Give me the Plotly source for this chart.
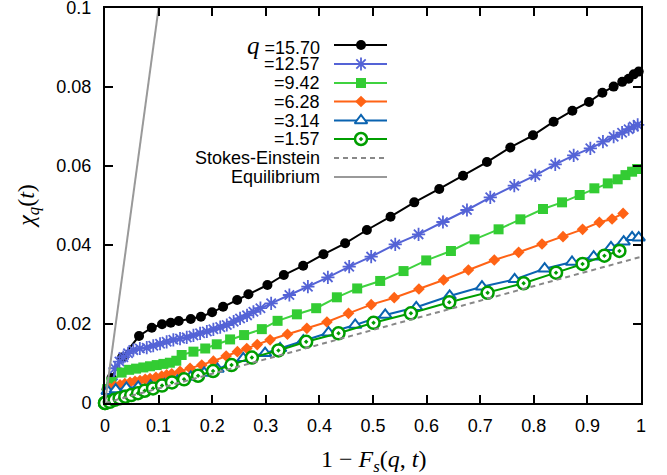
import plotly.graph_objects as go

# ---------------- data ----------------
q_labels = ["15.70", "12.57", "9.42", "6.28", "3.14", "1.57"]

x_q1570 = [0, 0.003, 0.012, 0.0317, 0.0635, 0.0872, 0.1064, 0.1227, 0.1376, 0.160, 0.179, 0.1998,
           0.2203, 0.2465, 0.2676, 0.303, 0.3336, 0.3697, 0.4076, 0.448, 0.4886, 0.5327, 0.577,
           0.6236, 0.668, 0.7126, 0.7562, 0.7985, 0.837, 0.872, 0.903, 0.928, 0.949, 0.965, 0.977,
           0.9865, 0.9957]
y_q1570 = [0, 0.0035, 0.0063, 0.0115, 0.01696, 0.01906, 0.01992, 0.02033, 0.02076, 0.02127, 0.02185,
           0.02296, 0.02438, 0.02608, 0.02752, 0.02987, 0.0324, 0.03476, 0.03764, 0.04043, 0.0438,
           0.04717, 0.0508, 0.05418, 0.05755, 0.0610, 0.0647, 0.06777, 0.07122, 0.0740, 0.0762,
           0.07856, 0.0801, 0.0813, 0.0821, 0.0832, 0.0839]

x_q1257 = [0, 0.008, 0.015, 0.0187, 0.027, 0.0342, 0.043, 0.0528, 0.065, 0.0779, 0.09, 0.1027, 0.115,
           0.1275, 0.14, 0.1525, 0.165, 0.1774, 0.19, 0.2022, 0.215, 0.2272, 0.24, 0.252, 0.265,
           0.2769, 0.29, 0.31, 0.344, 0.3785, 0.4158, 0.4556, 0.4966, 0.5415, 0.585, 0.6305, 0.6753,
           0.7188, 0.7636, 0.8028, 0.840, 0.8744, 0.9055, 0.929, 0.949, 0.9647, 0.977, 0.9865, 0.9938]
y_q1257 = [0, 0.0035, 0.0050, 0.0088, 0.0105, 0.0116, 0.0126, 0.0134, 0.0138, 0.0140, 0.0145, 0.0150,
           0.0155, 0.0160, 0.0163, 0.0166, 0.0171, 0.01765, 0.0181, 0.01866, 0.0192, 0.01975, 0.0206,
           0.0214, 0.0222, 0.0231, 0.0240, 0.02524, 0.02734, 0.02944, 0.03182, 0.03451, 0.03704,
           0.04017, 0.0427, 0.04582, 0.04886, 0.05207, 0.05501, 0.05764, 0.06043, 0.0627, 0.06448,
           0.06615, 0.0674, 0.06843, 0.0693, 0.0700, 0.0704]

x_q942 = [0, 0.004, 0.012, 0.031, 0.045, 0.058, 0.0715, 0.084, 0.0965, 0.109, 0.121, 0.133, 0.143,
          0.165, 0.187, 0.2085, 0.2334, 0.2595, 0.2926, 0.322, 0.358, 0.394, 0.4326, 0.4705, 0.5134,
          0.557, 0.5993, 0.6454, 0.6895, 0.7343, 0.775, 0.8172, 0.8527, 0.8856, 0.913, 0.938, 0.9565,
          0.971, 0.9834, 0.9927]
y_q942 = [0, 0.0035, 0.0053, 0.0077, 0.0084, 0.0087, 0.0090, 0.0093, 0.0096, 0.0099, 0.0102, 0.0107,
          0.01215, 0.0130, 0.0138, 0.01486, 0.0161, 0.0172, 0.0187, 0.0208, 0.02245, 0.0240, 0.02676,
          0.0290, 0.0309, 0.0334, 0.0361, 0.03848, 0.04143, 0.04397, 0.0465, 0.04911, 0.0508, 0.05266,
          0.05435, 0.0556, 0.05663, 0.0577, 0.05856, 0.05924]

x_q628 = [0, 0.004, 0.0093, 0.018, 0.028, 0.037, 0.0467, 0.056, 0.0653, 0.075, 0.084, 0.095, 0.1058,
          0.115, 0.1245, 0.14, 0.1587, 0.1805, 0.2022, 0.226, 0.247, 0.2645, 0.284, 0.308, 0.3404,
          0.3766, 0.414, 0.4543, 0.4966, 0.5396, 0.5857, 0.6317, 0.678, 0.7263, 0.7717, 0.8153,
          0.8545, 0.891, 0.9223, 0.946, 0.9666]
y_q628 = [0, 0.0025, 0.0037, 0.0042, 0.0046, 0.0049, 0.0052, 0.0055, 0.0057, 0.0060, 0.0062, 0.0065,
          0.0068, 0.0071, 0.0074, 0.0080, 0.0088, 0.0096, 0.0106, 0.0119, 0.0130, 0.0138, 0.0148,
          0.0160, 0.0174, 0.0189, 0.0205, 0.0227, 0.0249, 0.02666, 0.02886, 0.03114, 0.03367, 0.0362,
          0.03815, 0.04025, 0.0421, 0.04397, 0.04575, 0.04658, 0.0480]

x_q314 = [0, 0.005, 0.02, 0.04, 0.062, 0.085, 0.111, 0.135, 0.16, 0.185, 0.21, 0.233, 0.258, 0.2987,
          0.3267, 0.37, 0.417, 0.4668, 0.5228, 0.5807, 0.643, 0.7033, 0.7642, 0.8202, 0.8713, 0.9117,
          0.944, 0.9677, 0.9834, 0.9957]
y_q314 = [0, 0.0030, 0.0034, 0.0038, 0.0041, 0.0044, 0.0047, 0.0056, 0.0066, 0.0076, 0.0086, 0.0098,
          0.0113, 0.0126, 0.01385, 0.0158, 0.0178, 0.01975, 0.0223, 0.02423, 0.0271, 0.02945, 0.0313,
          0.0340, 0.0357, 0.03704, 0.0394, 0.04084, 0.04195, 0.04185]

x_q157 = [0, 0.0, 0.009, 0.018, 0.0274, 0.038, 0.049, 0.0616, 0.074, 0.0896, 0.1064, 0.125, 0.1475,
          0.1736, 0.2016, 0.236, 0.274, 0.3236, 0.3753, 0.4356, 0.501, 0.5707, 0.6423, 0.7138, 0.781,
          0.8415, 0.891, 0.9317, 0.9597]
y_q157 = [0, 0.0, 0.0003, 0.0008, 0.0012, 0.0016, 0.0020, 0.0025, 0.0031, 0.0037, 0.0044, 0.0052,
          0.0060, 0.0069, 0.0081, 0.0096, 0.0115, 0.0133, 0.0155, 0.01765, 0.0203, 0.0227, 0.0255,
          0.0279, 0.0303, 0.0330, 0.0352, 0.0373, 0.0385]

x_se = [0, 1]
y_se = [0, 0.037]
x_eq = [0, 0.2]
y_eq = [0, 0.2]

x_ticks = [0, 0.1, 0.2, 0.3, 0.4, 0.5, 0.6, 0.7, 0.8, 0.9, 1]
y_ticks = [0, 0.02, 0.04, 0.06, 0.08, 0.1]

# ---------------- styles ----------------
series = [
    (x_q1570, y_q1570, dict(color="#000000", symbol="circle", size=10, line=dict(width=0)), "#000000"),
    (x_q1257, y_q1257, dict(color="#5463d6", symbol="asterisk-open", size=11,
                            line=dict(color="#5463d6", width=1.8)), "#5463d6"),
    (x_q942, y_q942, dict(color="#33cc33", symbol="square", size=10, line=dict(width=0)), "#3fd23f"),
    (x_q628, y_q628, dict(color="#ff6315", symbol="diamond", size=9, line=dict(width=0)), "#ff6315"),
    (x_q314, y_q314, dict(color="#ffffff", symbol="triangle-up", size=11,
                          line=dict(color="#0a63b0", width=2)), "#0a63b0"),
    (x_q157, y_q157, dict(color="#ffffff", symbol="circle-dot", size=12,
                          line=dict(color="#009e00", width=2.5)), "#009e00"),
]
se_dash = "5px,4px"

fig = go.Figure()
for xs, ys, mk, lc in series:
    fig.add_trace(go.Scatter(x=xs, y=ys, mode="lines+markers", marker=mk,
                             line=dict(color=lc, width=2), cliponaxis=False, showlegend=False))

fig.add_trace(go.Scatter(x=x_se, y=y_se, mode="lines", line=dict(color="#888888", width=2, dash=se_dash),
                         showlegend=False))
fig.add_trace(go.Scatter(x=x_eq, y=y_eq, mode="lines", line=dict(color="#999999", width=2),
                         showlegend=False))

# ---------------- custom legend (gnuplot style, in page pixel coords) ----------------
rows = [45, 64, 83, 101.5, 120.5, 139, 158, 177]
leg_text = ['<span style="font-family:Liberation Serif;font-size:25px"><i>q</i></span> =' + q_labels[0]] + \
           ["=" + s for s in q_labels[1:]] + ["Stokes-Einstein", "Equilibrium"]
leg_styles = [(s[2], s[3], "solid") for s in series] + [(None, "#888888", se_dash), (None, "#999999", "solid")]
for r, txt, (mk, lc, dash) in zip(rows, leg_text, leg_styles):
    fig.add_trace(go.Scatter(x=[334, 387], y=[r, r], mode="lines", xaxis="x2", yaxis="y2",
                             line=dict(color=lc, width=2, dash=dash), showlegend=False))
    if mk is not None:
        fig.add_trace(go.Scatter(x=[361], y=[r], mode="markers", xaxis="x2", yaxis="y2",
                                 marker=mk, showlegend=False))
    fig.add_annotation(x=322, y=r, xref="x2", yref="y2", text=txt, showarrow=False,
                       xanchor="right", yanchor="middle",
                       font=dict(family="Liberation Sans", size=18, color="black"))

axis_common = dict(showline=True, linewidth=2, linecolor="black", mirror="ticks", ticks="inside",
                   ticklen=8, tickwidth=1.5, tickcolor="black", showgrid=False, zeroline=False,
                   automargin=False, ticklabeloverflow="allow",
                   tickfont=dict(family="Liberation Sans", size=18, color="black"))

fig.update_layout(
    width=667, height=475,
    margin=dict(l=105, r=26, t=8, b=72),
    plot_bgcolor="white", paper_bgcolor="white",
    xaxis=dict(range=[0, 1], tickvals=x_ticks, ticktext=[f"{v:g}" for v in x_ticks],
               ticklabelstandoff=5, **axis_common),
    yaxis=dict(range=[0, 0.1], tickvals=y_ticks, ticktext=[f"{v:g}" for v in y_ticks],
               ticklabelstandoff=8, **axis_common),
    xaxis2=dict(range=[105, 641], overlaying="x", anchor="y2", visible=False),
    yaxis2=dict(range=[403, 8], overlaying="y", anchor="x2", visible=False),
)

fig.add_annotation(x=0.5, y=-0.148, xref="paper", yref="paper", showarrow=False,
                   text="1 − <i>F</i><sub><i>s</i></sub>(<i>q</i>, <i>t</i>)",
                   xanchor="center", yanchor="middle",
                   font=dict(family="Liberation Serif", size=24, color="black"))
fig.add_annotation(x=-0.145, y=0.5, xref="paper", yref="paper", showarrow=False, textangle=-90,
                   text="<i>χ</i><sub><i>q</i></sub>(<i>t</i>)",
                   xanchor="center", yanchor="middle",
                   font=dict(family="Liberation Serif", size=24, color="black"))

fig.write_html("out.html", config={"displayModeBar": False},
               post_script="document.body.style.margin='0px';")
